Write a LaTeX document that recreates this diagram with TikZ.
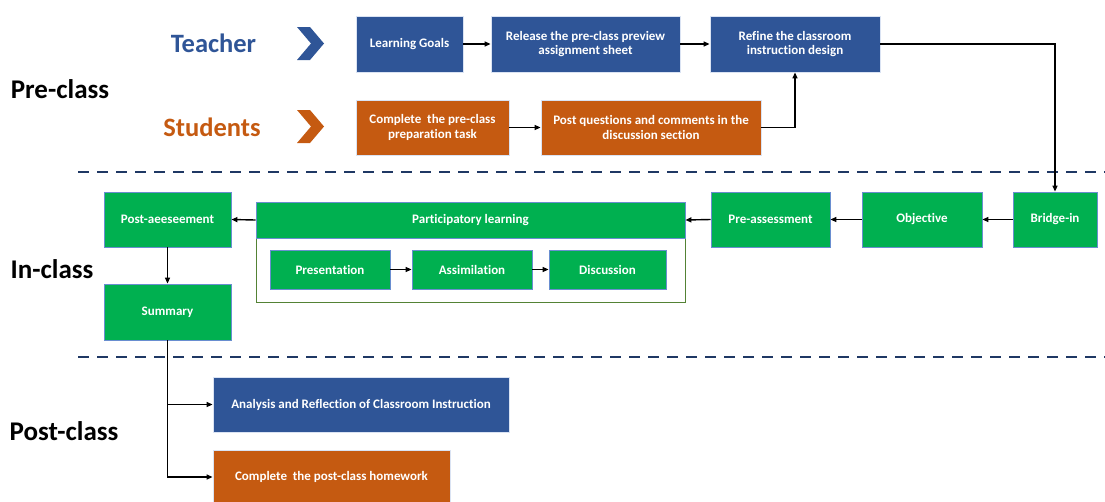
\documentclass[tikz,border=0pt]{standalone}
\usepackage{fontspec}
\setmainfont[Ligatures=NoCommon]{Carlito}
\usetikzlibrary{arrows.meta}
\definecolor{tblue}{HTML}{2F5597}
\definecolor{sorange}{HTML}{C55A11}
\definecolor{ggreen}{HTML}{00B050}
\definecolor{gborder}{HTML}{4472C4}
\definecolor{lborder}{HTML}{DAE3F3}
\definecolor{frameg}{HTML}{548235}
\definecolor{navy}{HTML}{1F3864}
\tikzset{
  base/.style={rectangle, inner sep=2pt, align=center, text=white, font=\bfseries\fontsize{13}{14.5}\selectfont, line width=0.8pt},
  bluebox/.style={base, fill=tblue, draw=lborder},
  orangebox/.style={base, fill=sorange, draw=lborder},
  greenbox/.style={base, fill=ggreen, draw=gborder!80},
  conn/.style={line width=1.4pt, -{Triangle[length=6pt,width=5pt]}},
  phase/.style={font=\bfseries\fontsize{27}{30}\selectfont, text=black},
  role/.style={font=\bfseries\fontsize{26.5}{30}\selectfont},
  sep/.style={navy, line width=2pt, dash pattern=on 11pt off 8pt},
}
\begin{document}
\begin{tikzpicture}[x=1pt,y=-1pt]
\useasboundingbox (0,0) rectangle (1105,501);
% separators
\draw[sep] (78,172) -- (1105,172);
\draw[sep] (78,357) -- (1105,357);
% phase labels
\node[phase] (pre) at (60,89) {Pre-class};
\node[phase] (in) at (52,269) {In-class};
\node[phase] (post) at (64,431) {Post-class};
% roles
\node[role, text=tblue] (teacher) at (213.5,43) {Teacher};
\node[role, text=sorange] (students) at (212,127) {Students};
\fill[tblue] (297,27) -- (310,27) -- (324,43.5) -- (310,60) -- (297,60) -- (311,43.5) -- cycle;
\fill[sorange] (297,110) -- (310,110) -- (324,126.5) -- (310,143) -- (297,143) -- (311,126.5) -- cycle;
% pre-class boxes
\node[bluebox, minimum width=107, minimum height=56] (goals) at (409.5,44) {Learning Goals};
\node[bluebox, minimum width=189, minimum height=56] (release) at (585.5,44) {Release the pre-class preview\\assignment sheet};
\node[bluebox, minimum width=170, minimum height=56] (refine) at (795,44) {Refine the classroom\\instruction design};
\node[orangebox, minimum width=153, minimum height=55] (prep) at (432.5,127.5) {Complete \ the pre-class\\preparation task};
\node[orangebox, minimum width=220, minimum height=55] (postq) at (651,127.5) {Post questions and comments in the\\discussion section};
% in-class boxes
\node[greenbox, minimum width=84, minimum height=55] (bridge) at (1055,219.5) {Bridge-in};
\node[greenbox, minimum width=120, minimum height=55] (obj) at (922,219.5) {Objective};
\node[greenbox, minimum width=119, minimum height=55] (preas) at (770.5,219.5) {Pre-assessment};
\node[draw=frameg, line width=0.8pt, minimum width=429, minimum height=100, inner sep=0pt] (frame) at (470.5,252) {};
\node[greenbox, minimum width=429, minimum height=36] (part) at (470.5,220) {Participatory learning};
\node[greenbox, minimum width=120, minimum height=39] (pres) at (330,269.5) {Presentation};
\node[greenbox, minimum width=120, minimum height=39] (assim) at (472,269.5) {Assimilation};
\node[greenbox, minimum width=117, minimum height=39] (disc) at (607.5,269.5) {Discussion};
\node[greenbox, minimum width=127, minimum height=55] (postas) at (167.5,219.5) {Post-aeeseement};
\node[greenbox, minimum width=127, minimum height=56] (summary) at (167.5,312) {Summary};
% post-class boxes
\node[bluebox, minimum width=296, minimum height=55] (analysis) at (361,404.5) {Analysis and Reflection of Classroom Instruction};
\node[orangebox, minimum width=237, minimum height=54] (hw) at (331.5,477) {Complete \ the post-class homework};
% connectors
\draw[conn] (goals) -- (release);
\draw[conn] (release) -- (refine);
\draw[conn] (prep) -- (postq);
\draw[conn] (postq.east) -| (refine.south);
\draw[conn] (refine.east) -| (bridge.north);
\draw[conn] (bridge) -- (obj);
\draw[conn] (obj) -- (preas);
\draw[conn] (preas.west) -- (part.east);
\draw[conn] (part.west) -- (postas.east);
\draw[conn] (pres) -- (assim);
\draw[conn] (assim) -- (disc);
\draw[conn] (postas) -- (summary);
\draw[conn] (summary.south) |- (analysis.west);
\draw[conn] (summary.south) |- (hw.west);
\end{tikzpicture}
\end{document}
